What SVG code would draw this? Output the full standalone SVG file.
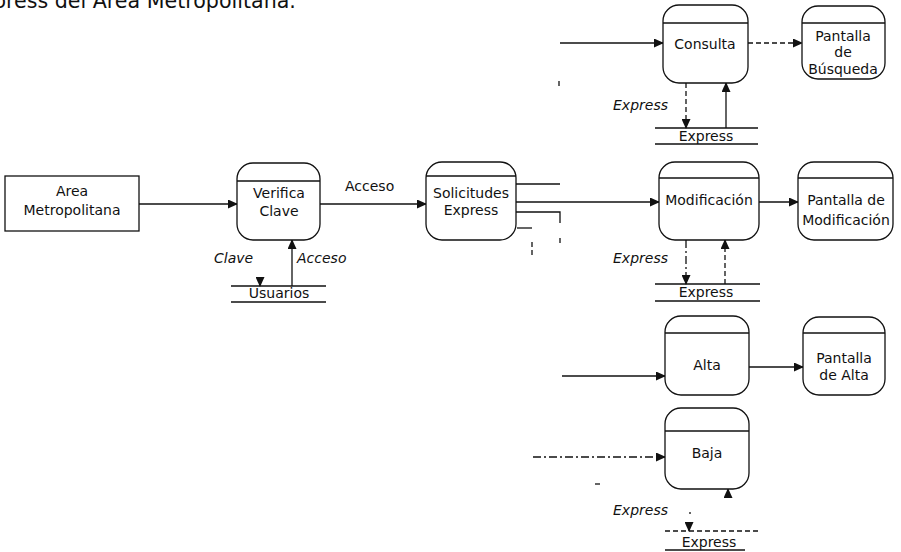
<svg xmlns="http://www.w3.org/2000/svg" width="901" height="552" viewBox="0 0 901 552">
  <style>
    text { font-family: "DejaVu Sans", "Liberation Sans", sans-serif; font-size: 14px; fill: #111; }
    .title { font-size: 20.6px; }
    .lbl { font-style: italic; }
    .c { text-anchor: middle; }
    .box { fill: #fff; stroke: #111; stroke-width: 1.3; }
    .hdr { stroke: #111; stroke-width: 1.3; fill: none; }
    .ln { stroke: #111; stroke-width: 1.3; fill: none; }
    .arr { marker-end: url(#ah); }
    .dash { stroke-dasharray: 5 3; }
    .dashdot { stroke-dasharray: 8 3 2 3; }
  </style>
  <defs>
    <marker id="ah" markerUnits="userSpaceOnUse" markerWidth="10" markerHeight="9" refX="9" refY="4.5" orient="auto">
      <path d="M0,0 L10,4.5 L0,9 z" fill="#111"/>
    </marker>
  </defs>

  <rect width="901" height="552" fill="#fff"/>

  <!-- page heading, partly cut off at the top edge -->
  <text class="title" x="-7" y="8">press del Area Metropolitana.</text>

  <!-- connectors -->
  <g id="connectors">
    <path class="ln arr" d="M139,204 H237"/>
    <path class="ln arr" d="M320,204 H426"/>
    <text x="345" y="191">Acceso</text>

    <!-- Verifica Clave / Usuarios -->
    <path class="ln arr" d="M260,283 V286"/>
    <path class="ln arr" d="M292,286 V240"/>
    <text class="lbl" x="214" y="263">Clave</text>
    <text class="lbl" x="297" y="263">Acceso</text>

    <!-- branches leaving Solicitudes Express -->
    <path class="ln" d="M516,184 H560"/>
    <path class="ln arr" d="M516,202 H659"/>
    <path class="ln" d="M516,212 H560 V223"/>
    <path class="ln" d="M560,238 V243"/>
    <path class="ln" d="M517,228 H532"/>
    <path class="ln dash" d="M532,242 V257"/>
    <path class="ln" d="M559,81 V86"/>
    <path class="ln" d="M595,484 H600"/>

    <!-- Consulta -->
    <path class="ln arr" d="M560,43 H663"/>
    <path class="ln arr dash" d="M748,43 H802"/>
    <path class="ln arr dash" d="M686,83 V128"/>
    <path class="ln arr" d="M726,128 V83"/>
    <text class="lbl" x="613" y="110">Express</text>

    <!-- Modificación -->
    <path class="ln arr" d="M759,202 H798"/>
    <path class="ln arr dashdot" d="M686,240 V284"/>
    <path class="ln arr dash" d="M725,284 V240"/>
    <text class="lbl" x="613" y="263">Express</text>

    <!-- Alta -->
    <path class="ln arr" d="M562,376 H665"/>
    <path class="ln arr" d="M749,367 H803"/>

    <!-- Baja -->
    <path class="ln arr dashdot" d="M533,457 H665"/>
    <path class="ln arr" d="M689,528 V531"/>
    <path class="ln arr" d="M728,492 V489"/>
    <path class="ln" d="M690,512 V514"/>
    <text class="lbl" x="613" y="515">Express</text>
  </g>

  <!-- external entity -->
  <g id="area-metropolitana">
    <rect class="box" x="5" y="176" width="134" height="55"/>
    <text class="c" x="72" y="196">Area</text>
    <text class="c" x="72" y="215">Metropolitana</text>
  </g>

  <!-- processes -->
  <g id="verifica-clave">
    <rect class="box" x="237" y="163" width="83" height="77" rx="16"/>
    <path class="hdr" d="M237,181 H320"/>
    <text class="c" x="279" y="198">Verifica</text>
    <text class="c" x="279" y="216">Clave</text>
  </g>

  <g id="solicitudes-express">
    <rect class="box" x="426" y="162" width="90" height="78" rx="16"/>
    <path class="hdr" d="M426,176 H516"/>
    <text class="c" x="471" y="198">Solicitudes</text>
    <text class="c" x="471" y="215">Express</text>
  </g>

  <g id="consulta">
    <rect class="box" x="663" y="5" width="85" height="78" rx="16"/>
    <path class="hdr" d="M663,23 H748"/>
    <text class="c" x="705" y="49">Consulta</text>
  </g>

  <g id="modificacion">
    <rect class="box" x="659" y="162" width="100" height="78" rx="16"/>
    <path class="hdr" d="M659,178 H759"/>
    <text class="c" x="709" y="205">Modificación</text>
  </g>

  <g id="alta">
    <rect class="box" x="665" y="316" width="84" height="79" rx="16"/>
    <path class="hdr" d="M665,333 H749"/>
    <text class="c" x="707" y="370">Alta</text>
  </g>

  <g id="baja">
    <rect class="box" x="665" y="408" width="84" height="81" rx="16"/>
    <path class="hdr" d="M665,431 H749"/>
    <text class="c" x="707" y="458">Baja</text>
  </g>

  <!-- screens -->
  <g id="pantalla-busqueda">
    <rect class="box" x="802" y="6" width="83" height="73" rx="16"/>
    <path class="hdr" d="M802,23 H885"/>
    <text class="c" x="843" y="41">Pantalla</text>
    <text class="c" x="843" y="57">de</text>
    <text class="c" x="843" y="74">Búsqueda</text>
  </g>

  <g id="pantalla-modificacion">
    <rect class="box" x="798" y="162" width="95" height="78" rx="16"/>
    <path class="hdr" d="M798,178 H893"/>
    <text class="c" x="846" y="205">Pantalla de</text>
    <text class="c" x="846" y="225">Modificación</text>
  </g>

  <g id="pantalla-alta">
    <rect class="box" x="803" y="317" width="82" height="78" rx="16"/>
    <path class="hdr" d="M803,333 H885"/>
    <text class="c" x="844" y="363">Pantalla</text>
    <text class="c" x="844" y="380">de Alta</text>
  </g>

  <!-- data stores -->
  <g id="store-usuarios">
    <path class="ln" d="M231,286 H326 M231,302 H326"/>
    <text class="c" x="279" y="298">Usuarios</text>
  </g>

  <g id="store-express-consulta">
    <path class="ln" d="M655,128 H758 M655,144 H758"/>
    <text class="c" x="706" y="141">Express</text>
  </g>

  <g id="store-express-modificacion">
    <path class="ln" d="M655,284 H760 M655,301 H760"/>
    <text class="c" x="706" y="297">Express</text>
  </g>

  <g id="store-express-baja">
    <path class="ln dash" d="M665,531 H759"/>
    <path class="ln" d="M665,550 H745"/>
    <text class="c" x="709" y="547">Express</text>
  </g>
</svg>
